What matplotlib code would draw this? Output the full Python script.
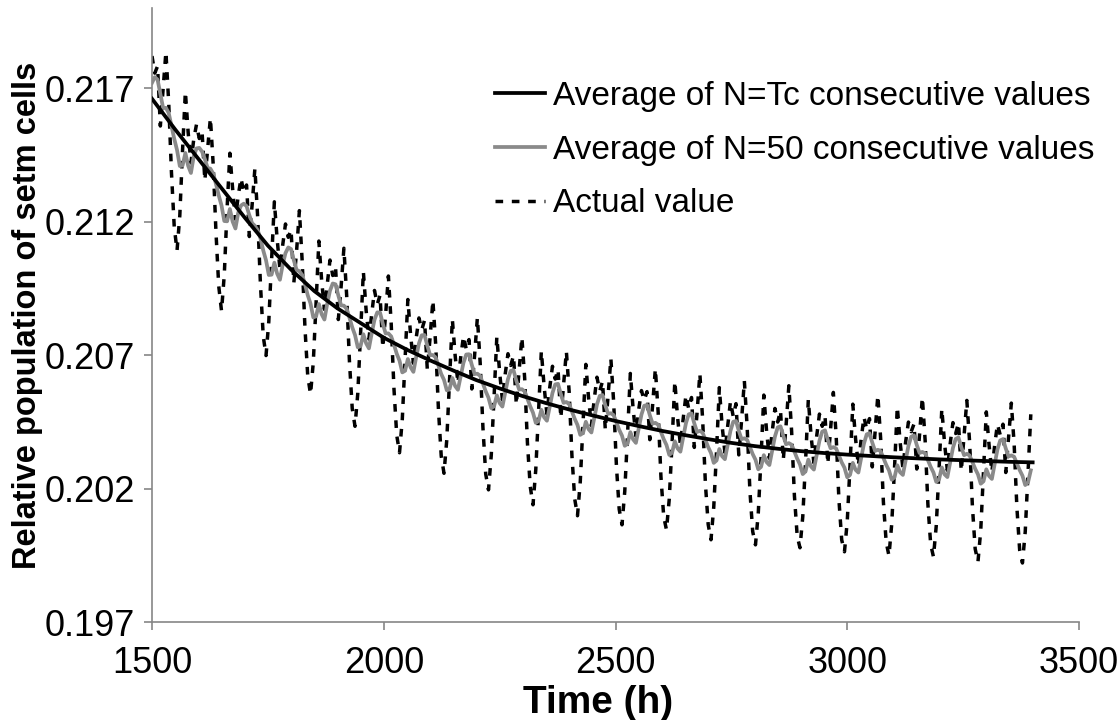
import numpy as np
import matplotlib
matplotlib.use("Agg")
import matplotlib.pyplot as plt

# ---------------- data ----------------
# time grid of the simulated series, hours
time_h = np.arange(1500, 3397, 6)

# Actual value: first partial cycle, then one row per ~96 h cycle (starting at each deep dip), then last partial
actual_rows = [
    [.21820, .21756, .21782, .21558, .21695, .21836, .21647, .21383, .21180],
    [.21091, .21223, .21470, .21687, .21534, .21420, .21507, .21564, .21511, .21537, .21354, .21471, .21588, .21415, .21161, .20958],
    [.20865, .21002, .21249, .21456, .21322, .21209, .21296, .21363, .21309, .21337, .21144, .21262, .21399, .21216, .20964, .20771],
    [.20698, .20826, .21055, .21274, .21134, .21023, .21112, .21191, .21141, .21170, .20970, .21091, .21241, .21052, .20802, .20622],
    [.20553, .20673, .20895, .21127, .20979, .20871, .20964, .21056, .20998, .21030, .20833, .20956, .21100, .20923, .20676, .20500],
    [.20433, .20557, .20780, .21013, .20867, .20760, .20853, .20942, .20890, .20924, .20727, .20851, .20996, .20820, .20575, .20400],
    [.20334, .20459, .20684, .20908, .20774, .20669, .20764, .20839, .20794, .20830, .20645, .20766, .20905, .20741, .20496, .20322],
    [.20257, .20383, .20608, .20834, .20699, .20595, .20691, .20771, .20722, .20758, .20573, .20699, .20840, .20672, .20428, .20254],
    [.20195, .20326, .20543, .20769, .20635, .20532, .20628, .20705, .20661, .20698, .20514, .20641, .20767, .20614, .20371, .20208],
    [.20139, .20271, .20488, .20715, .20582, .20479, .20576, .20658, .20610, .20647, .20464, .20591, .20714, .20563, .20323, .20161],
    [.20098, .20226, .20443, .20665, .20537, .20435, .20532, .20617, .20565, .20602, .20420, .20547, .20687, .20525, .20285, .20122],
    [.20064, .20190, .20403, .20631, .20499, .20396, .20494, .20567, .20530, .20563, .20383, .20511, .20649, .20487, .20245, .20095],
    [.20045, .20161, .20369, .20602, .20465, .20363, .20461, .20550, .20498, .20541, .20354, .20484, .20631, .20459, .20217, .20065],
    [.20008, .20131, .20340, .20578, .20436, .20335, .20433, .20526, .20470, .20518, .20326, .20455, .20603, .20432, .20191, .20039],
    [.19989, .20107, .20316, .20550, .20414, .20313, .20411, .20500, .20449, .20493, .20307, .20436, .20585, .20414, .20173, .20022],
    [.19978, .20094, .20299, .20533, .20397, .20296, .20395, .20479, .20433, .20473, .20292, .20421, .20560, .20400, .20159, .20008],
    [.19963, .20077, .20286, .20516, .20385, .20285, .20384, .20468, .20422, .20462, .20281, .20410, .20550, .20389, .20149, .19999],
    [.19948, .20068, .20277, .20507, .20376, .20276, .20375, .20449, .20413, .20442, .20273, .20402, .20542, .20382, .20141, .19991],
    [.19944, .20060, .20269, .20499, .20368, .20268, .20367, .20447, .20406, .20446, .20265, .20395, .20530, .20374, .20134, .19974],
    [.19925, .20043, .20262, .20487, .20362, .20262, .20361, .20441, .20401, .20441, .20260, .20390, .20520, .20369, .20129, .19969],
    [.19921, .20038, .20258, .20478],
]

# Average of N=50 consecutive values (same time grid)
avg50_rows = [
    [.21720, .21741, .21732, .21678, .21625, .21626, .21607, .21558, .21510],
    [.21468, .21408, .21410, .21457, .21409, .21382, .21444, .21474, .21476, .21462, .21434, .21401, .21398, .21380, .21341, .21298],
    [.21260, .21202, .21201, .21247, .21200, .21174, .21233, .21260, .21267, .21258, .21224, .21194, .21184, .21168, .21137, .21092],
    [.21055, .21000, .21001, .21046, .21005, .20982, .21039, .21082, .21103, .21097, .21055, .21019, .21014, .21000, .20966, .20924],
    [.20893, .20841, .20845, .20891, .20853, .20833, .20892, .20941, .20968, .20965, .20923, .20886, .20885, .20873, .20840, .20804],
    [.20775, .20729, .20734, .20778, .20744, .20725, .20781, .20832, .20860, .20859, .20817, .20781, .20781, .20770, .20739, .20705],
    [.20679, .20635, .20641, .20685, .20654, .20637, .20693, .20744, .20774, .20775, .20735, .20700, .20700, .20691, .20660, .20629],
    [.20607, .20568, .20573, .20614, .20584, .20570, .20621, .20671, .20702, .20703, .20663, .20629, .20630, .20622, .20593, .20564],
    [.20540, .20501, .20508, .20549, .20520, .20507, .20558, .20610, .20641, .20643, .20604, .20571, .20572, .20564, .20536, .20508],
    [.20484, .20446, .20453, .20495, .20467, .20454, .20506, .20558, .20590, .20592, .20554, .20521, .20524, .20516, .20488, .20461],
    [.20438, .20401, .20408, .20450, .20422, .20410, .20462, .20515, .20547, .20550, .20512, .20480, .20482, .20475, .20447, .20420],
    [.20398, .20360, .20368, .20411, .20384, .20371, .20424, .20477, .20510, .20513, .20475, .20443, .20446, .20439, .20412, .20385],
    [.20363, .20326, .20334, .20377, .20350, .20338, .20391, .20445, .20478, .20481, .20444, .20412, .20416, .20409, .20382, .20355],
    [.20333, .20296, .20305, .20348, .20321, .20310, .20363, .20416, .20450, .20453, .20416, .20385, .20388, .20382, .20356, .20329],
    [.20308, .20272, .20281, .20325, .20299, .20288, .20341, .20395, .20429, .20433, .20397, .20366, .20370, .20364, .20338, .20312],
    [.20290, .20254, .20264, .20308, .20282, .20271, .20325, .20379, .20413, .20418, .20382, .20351, .20355, .20350, .20324, .20298],
    [.20278, .20242, .20251, .20296, .20270, .20260, .20314, .20368, .20403, .20407, .20372, .20341, .20345, .20340, .20314, .20289],
    [.20268, .20233, .20242, .20287, .20261, .20251, .20305, .20360, .20394, .20399, .20363, .20333, .20337, .20332, .20306, .20281],
    [.20260, .20225, .20234, .20279, .20253, .20243, .20297, .20352, .20386, .20391, .20355, .20325, .20330, .20324, .20299, .20274],
    [.20253, .20218, .20227, .20272, .20247, .20236, .20291, .20346, .20380, .20385, .20350, .20320, .20324, .20319, .20294, .20269],
    [.20248, .20213, .20223, .20268],
]

# Average of N=Tc consecutive values (every 50 h)
avgTc_time = np.arange(1500, 3401, 50)
avgTc_vals = [.21660, .21545, .21435, .21325, .21215, .21110, .21020, .20940, .20875, .20820,
              .20765, .20720, .20680, .20642, .20606, .20575, .20546, .20520, .20496, .20474,
              .20453, .20434, .20416, .20400, .20385, .20371, .20359, .20349, .20340, .20333,
              .20327, .20322, .20317, .20313, .20309, .20306, .20303, .20300, .20298]

labels = ["Average of N=Tc consecutive values",
          "Average of N=50 consecutive values",
          "Actual value"]
x_ticks = [1500, 2000, 2500, 3000, 3500]
y_ticks = [0.197, 0.202, 0.207, 0.212, 0.217]

actual = np.concatenate([np.asarray(r) for r in actual_rows])
avg50 = np.concatenate([np.asarray(r) for r in avg50_rows])
n = min(len(time_h), len(actual), len(avg50))

# ---------------- plot ----------------
plt.rcParams['font.family'] = ['Liberation Sans', 'DejaVu Sans']
fig = plt.figure(figsize=(11.2, 7.2), dpi=100)
ax = fig.add_axes([152/1120, 1-622/720, (1079-152)/1120, (622-8)/720])

l3, = ax.plot(time_h[:n], actual[:n], color='black', lw=2.5, ls=(0, (2.2, 2.5)), zorder=2)
l2, = ax.plot(time_h[:n], avg50[:n], color='#8a8a8a', lw=2.7, zorder=3)
l1, = ax.plot(avgTc_time, avgTc_vals, color='black', lw=2.7, zorder=4)

ax.set_xlim(1500, 3500)
ax.set_ylim(0.197, 0.220)
ax.set_xticks(x_ticks)
ax.set_yticks(y_ticks)
ax.set_yticklabels([f"{v:.3f}" for v in y_ticks])
for s in ['top', 'right']:
    ax.spines[s].set_visible(False)
for s in ['left', 'bottom']:
    ax.spines[s].set_color('#868686')
    ax.spines[s].set_linewidth(1.2)
ax.tick_params(axis='both', direction='out', length=6, width=1.2, color='#868686',
               labelsize=26, labelcolor='black')
ax.tick_params(axis='y', pad=6)
ax.tick_params(axis='x', pad=11)

ax.set_xlabel("Time (h)", fontsize=28, fontweight='bold')
ax.xaxis.set_label_coords(0.481, -0.102)
ax.set_ylabel("Relative population of setm cells", fontsize=23.5, fontweight='bold')
ax.yaxis.set_label_coords(-0.134, 0.5)
ax.yaxis.label.set_va('center')

leg = fig.legend([l1, l2, l3], labels, loc='upper left', bbox_to_anchor=(495/1120, 1-81/720),
                 bbox_transform=fig.transFigure, frameon=False, fontsize=24,
                 handlelength=1.5, handletextpad=0.25, labelspacing=0.68,
                 borderpad=0, borderaxespad=0)

fig.savefig("out.png", dpi=100)
